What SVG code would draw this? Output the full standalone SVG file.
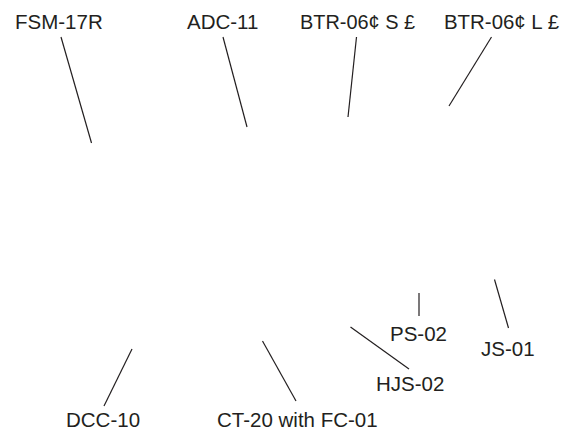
<svg xmlns="http://www.w3.org/2000/svg" width="573" height="430" viewBox="0 0 573 430">
<style>
text{font-family:"Liberation Sans",Arial,sans-serif;font-size:20.5px;fill:#231f20}
.c line{stroke:#231f20;stroke-width:1.2;fill:none}
</style>
<rect width="573" height="430" fill="#fff"/>
<g id="connectors" class="c">
<line x1="61" y1="37" x2="91.5" y2="143"/>
<line x1="223" y1="37" x2="247" y2="127"/>
<line x1="356.5" y1="37" x2="348" y2="117"/>
<line x1="491.5" y1="37" x2="449" y2="106"/>
<line x1="419" y1="293" x2="419" y2="316"/>
<line x1="494.5" y1="279.5" x2="508.5" y2="328"/>
<line x1="350.5" y1="327" x2="409" y2="369"/>
<line x1="262.5" y1="341" x2="296" y2="401"/>
<line x1="132" y1="349" x2="104" y2="406"/>
</g>
<g id="fsm-17r"><text x="15" y="29">FSM-17R</text></g>
<g id="adc-11"><text x="187" y="29">ADC-11</text></g>
<g id="btr-06s"><text x="300" y="29" textLength="115" lengthAdjust="spacingAndGlyphs">BTR-06¢ S £</text></g>
<g id="btr-06l"><text x="444" y="29" textLength="115" lengthAdjust="spacingAndGlyphs">BTR-06¢ L £</text></g>
<g id="ps-02"><text x="390" y="341">PS-02</text></g>
<g id="js-01"><text x="481" y="356">JS-01</text></g>
<g id="hjs-02"><text x="376" y="391">HJS-02</text></g>
<g id="ct-20"><text x="217" y="427">CT-20 with FC-01</text></g>
<g id="dcc-10"><text x="66" y="427">DCC-10</text></g>
</svg>
